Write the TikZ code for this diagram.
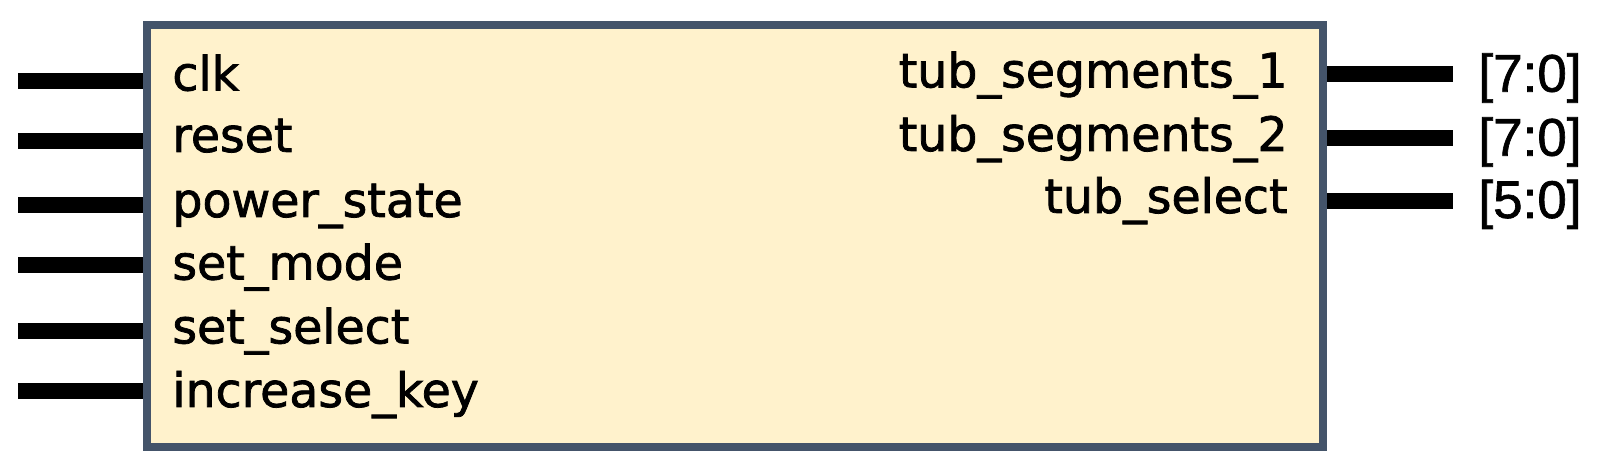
\documentclass[tikz,border=0pt]{standalone}
\usepackage{fontspec}
\usepackage{tikz}
\usetikzlibrary{positioning,calc}
\newfontfamily\portfont[FakeBold=1.6]{DejaVu Sans}
\newfontfamily\busfont[FakeBold=1.2]{Liberation Sans}
\definecolor{blkedge}{HTML}{44546A}
\definecolor{blkfill}{HTML}{FFF2CC}

\begin{document}
\begin{tikzpicture}[
  x=0.5pt, y=-0.5pt,
  block/.style={draw=blkedge, fill=blkfill, line width=4pt, minimum width=588pt, minimum height=211pt, inner sep=0pt},
  pin/.style={line width=8pt, draw=black},
  portlbl/.style={font=\portfont\fontsize{23.7}{28}\selectfont, inner sep=0pt},
  buslbl/.style={font=\busfont\fontsize{26.5}{30}\selectfont, inner sep=0pt},
]
\useasboundingbox (0,0) rectangle (1612,469);
% ---------- module block ----------
\node[block] (blk) at (735,236) {};
% ---------- inputs (left side) ----------
\foreach \name/\yp/\yb [count=\i] in {%
  clk/81/90.5,
  reset/141/152,
  power\_state/205/217,
  set\_mode/265/279.6,
  set\_select/331/343.4,
  increase\_key/391/407%
} {
  \coordinate (in\i) at (18,\yp);
  \draw[pin] (in\i) -- (in\i -| blk.west);
  \node[portlbl, anchor=base west] (inl\i) at (172,\yb) {\name};
}
% ---------- outputs (right side) ----------
\foreach \name/\yp/\yb/\bus/\ybb [count=\i] in {%
  tub\_segments\_1/74/87.4/{[7:0]}/91.7,
  tub\_segments\_2/138/151/{[7:0]}/155.7,
  tub\_select/201/213/{[5:0]}/218%
} {
  \coordinate (out\i) at (1453,\yp);
  \draw[pin] (out\i -| blk.east) -- (out\i);
  \node[portlbl, anchor=base east] (outl\i) at (1288,\yb) {\name};
  \node[buslbl, anchor=base west] (bus\i) at (1478,\ybb) {\bus};
}
\end{tikzpicture}
\end{document}
